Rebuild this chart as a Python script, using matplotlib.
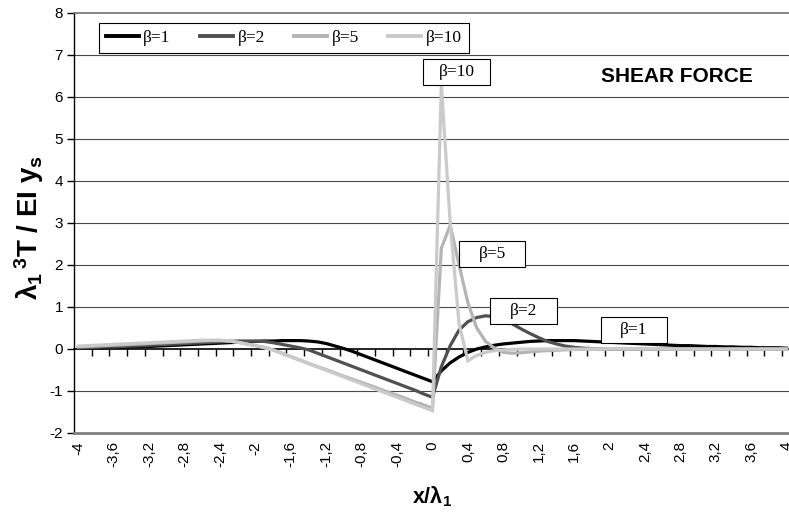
import matplotlib
matplotlib.use('Agg')
import matplotlib.pyplot as plt
import numpy as np
from matplotlib.patches import Rectangle

plt.rcParams['font.family'] = ['Liberation Sans', 'DejaVu Sans']
plt.rcParams['axes.unicode_minus'] = False
plt.rcParams['mathtext.fontset'] = 'custom'
plt.rcParams['mathtext.rm'] = 'Liberation Sans:bold'
plt.rcParams['mathtext.bf'] = 'Liberation Sans:bold'
plt.rcParams['mathtext.it'] = 'Liberation Sans:bold'
plt.rcParams['mathtext.default'] = 'bf'

# ---------------- data ----------------
x_cat = np.round(np.arange(-40, 41) / 10.0, 1)

beta1 = [0.02, 0.02, 0.03, 0.03, 0.04, 0.04, 0.05, 0.06, 0.06, 0.07,
         0.08, 0.09, 0.10, 0.11, 0.12, 0.13, 0.14, 0.15, 0.16, 0.17,
         0.18, 0.19, 0.19, 0.20, 0.20, 0.20, 0.19, 0.17, 0.13, 0.07,
         0.01, -0.06, -0.14, -0.22, -0.30, -0.38, -0.46, -0.54, -0.62, -0.70,
         -0.78,
         -0.52, -0.33, -0.19, -0.08, 0.00, 0.05, 0.09, 0.12, 0.14, 0.16,
         0.18, 0.19, 0.20, 0.20, 0.20, 0.20, 0.19, 0.18, 0.17, 0.16,
         0.15, 0.14, 0.13, 0.12, 0.11, 0.10, 0.09, 0.08, 0.08, 0.07,
         0.06, 0.06, 0.05, 0.05, 0.04, 0.04, 0.03, 0.03, 0.03, 0.02]

beta2 = [0.03, 0.03, 0.04, 0.05, 0.05, 0.06, 0.07, 0.08, 0.09, 0.10,
         0.11, 0.12, 0.13, 0.14, 0.15, 0.16, 0.17, 0.18, 0.19, 0.19,
         0.19, 0.18, 0.15, 0.11, 0.07, 0.03, -0.02, -0.10, -0.18, -0.26,
         -0.34, -0.42, -0.50, -0.58, -0.66, -0.74, -0.82, -0.90, -0.98, -1.07,
         -1.15,
         -0.42, 0.08, 0.45, 0.65, 0.75, 0.79, 0.77, 0.70, 0.60, 0.48,
         0.37, 0.27, 0.18, 0.12, 0.07, 0.04, 0.02, 0.01, 0.00, -0.01,
         -0.01, -0.01, -0.01, -0.01, -0.01, -0.01, 0.00, 0.00, 0.00, 0.00,
         0.00, 0.00, 0.00, 0.00, 0.00, 0.00, 0.00, 0.00, 0.00, 0.00]

beta5 = [0.05, 0.06, 0.07, 0.08, 0.09, 0.10, 0.11, 0.12, 0.13, 0.14,
         0.15, 0.16, 0.17, 0.18, 0.19, 0.20, 0.20, 0.19, 0.16, 0.12,
         0.08, 0.04, -0.02, -0.10, -0.18, -0.26, -0.34, -0.42, -0.49, -0.57,
         -0.65, -0.72, -0.80, -0.87, -0.95, -1.03, -1.10, -1.18, -1.26, -1.33,
         -1.41,
         2.40, 2.95, 2.00, 1.10, 0.50, 0.18, 0.02, -0.08, -0.10, -0.09,
         -0.07, -0.05, -0.04, -0.03, -0.02, -0.01, -0.01, 0.00, 0.00, 0.00,
         0.00, 0.00, 0.00, 0.00, 0.00, 0.00, 0.00, 0.00, 0.00, 0.00,
         0.00, 0.00, 0.00, 0.00, 0.00, 0.00, 0.00, 0.00, 0.00, 0.00]

beta10 = [0.07, 0.08, 0.09, 0.10, 0.11, 0.12, 0.13, 0.14, 0.15, 0.16,
          0.17, 0.18, 0.19, 0.20, 0.21, 0.21, 0.21, 0.19, 0.16, 0.12,
          0.08, 0.03, -0.03, -0.11, -0.19, -0.27, -0.35, -0.43, -0.51, -0.59,
          -0.67, -0.75, -0.83, -0.91, -0.99, -1.07, -1.15, -1.23, -1.31, -1.39,
          -1.47,
          6.30, 3.00, 0.60, -0.28, -0.15, -0.08, -0.04, -0.02, -0.01, 0.00,
          0.00, 0.00, 0.00, 0.00, 0.00, 0.00, 0.00, 0.00, 0.00, 0.00,
          0.00, 0.00, 0.00, 0.00, 0.00, 0.00, 0.00, 0.00, 0.00, 0.00,
          0.00, 0.00, 0.00, 0.00, 0.00, 0.00, 0.00, 0.00, 0.00, 0.00]

series_names = ['β=1', 'β=2', 'β=5', 'β=10']
series_values = [beta1, beta2, beta5, beta10]
series_colors = ['#000000', '#505050', '#b4b4b4', '#cacaca']

x_tick_values = np.round(np.arange(-4.0, 4.01, 0.4), 1)
y_tick_values = list(range(-2, 9))

# ---------------- figure ----------------
fig = plt.figure(figsize=(7.89, 5.18), dpi=100)
ax = fig.add_axes([74 / 789, 85 / 518, 717 / 789, 420 / 518])
ax.set_xlim(-4.05, 4.05)
ax.set_ylim(-2, 8)

for y in y_tick_values:
    if y not in (-2, 0, 8):
        ax.axhline(y, color='#4a4a4a', lw=0.8, zorder=1)

lines = []
for name, vals, col in zip(series_names, series_values, series_colors):
    ln, = ax.plot(x_cat, vals, color=col, lw=2.3, label=name, zorder=3,
                  solid_joinstyle='miter')
    lines.append(ln)

# spines
ax.spines['right'].set_visible(False)
ax.spines['top'].set_color('#707070')
ax.spines['top'].set_linewidth(1.2)
ax.spines['bottom'].set_color('#808080')
ax.spines['bottom'].set_linewidth(2.0)
ax.spines['left'].set_color('black')
ax.spines['left'].set_linewidth(1.0)

# y axis
ax.set_yticks(y_tick_values)
ax.set_yticklabels([str(v) for v in y_tick_values])
ax.tick_params(axis='y', direction='out', length=5, width=1, color='black',
               labelsize=11, pad=3)

# x labels at bottom
def fmt(v):
    s = f"{v:g}"
    if s == '-0':
        s = '0'
    return s.replace('.', ',')

ax.set_xticks(x_tick_values)
ax.set_xticklabels([fmt(v) for v in x_tick_values], rotation=90)
ax.tick_params(axis='x', length=0, pad=6, labelsize=11)

# category axis line at y = 0
sec = ax.secondary_xaxis(0.2)
sec.set_xticks(np.round(np.arange(-3.85, 4.0, 0.2), 2))
sec.tick_params(axis='x', direction='out', length=5, width=1, color='black',
                labelbottom=False, labeltop=False)
sec.spines['bottom'].set_color('black')
sec.spines['bottom'].set_linewidth(1.2)

# legend
leg = ax.legend(handles=lines, ncol=4, loc='upper left',
                bbox_to_anchor=(99 / 789, 1 - 23 / 518),
                bbox_transform=fig.transFigure, frameon=True, fancybox=False,
                edgecolor='black', framealpha=1,
                prop={'family': 'Liberation Serif', 'size': 12.5},
                handlelength=1.9, handletextpad=0.25, columnspacing=1.7,
                borderpad=0.4, borderaxespad=0)
leg.get_frame().set_linewidth(0.8)
for h in leg.get_lines():
    h.set_linewidth(2.8)

# label boxes
def label_box(xc, yc, text):
    w, h = 0.75, 0.62
    ax.add_patch(Rectangle((xc - w / 2, yc - h / 2), w, h, facecolor='white',
                           edgecolor='black', lw=0.8, zorder=5))
    ax.text(xc, yc, text, ha='center', va='center', zorder=6,
            family='Liberation Serif', fontsize=12.5)

label_box(0.27, 6.59, 'β=10')
label_box(0.675, 2.27, 'β=5')
label_box(1.026, 0.905, 'β=2')
label_box(2.277, 0.46, 'β=1')

fig.text(677 / 789, 1 - 76 / 518, 'SHEAR FORCE', fontsize=15,
         fontweight='bold', ha='center', va='center')

fig.text(29 / 789, 1 - 227 / 518, r'$\lambda_1\,{}^3$T / EI y$_s$',
         rotation=90, fontsize=20, fontweight='bold', ha='center', va='center')
fig.text(432 / 789, 1 - 497 / 518, r'x/$\lambda_1$', fontsize=15.5,
         fontweight='bold', ha='center', va='center')

fig.savefig('out.png', dpi=100)
